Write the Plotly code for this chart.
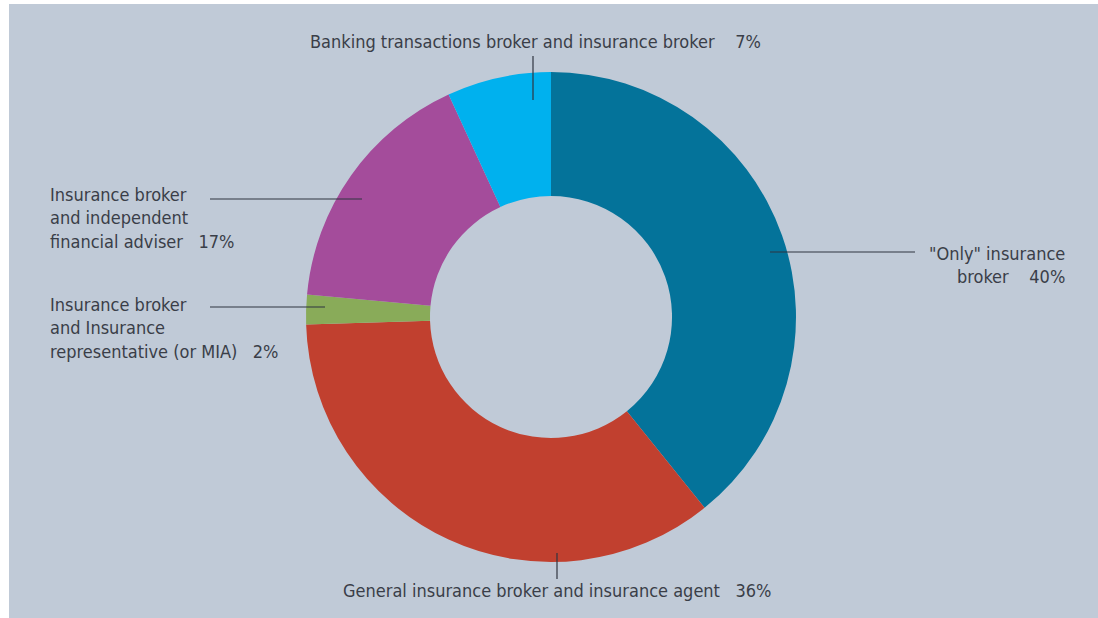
import plotly.graph_objects as go

W, H = 1098, 618

categories = [
    '"Only" insurance broker',
    "General insurance broker and insurance agent",
    "Insurance broker and Insurance representative (or MIA)",
    "Insurance broker and independent financial adviser",
    "Banking transactions broker and insurance broker",
]
values = [40, 36, 2, 17, 7]
colors = ["#04739a", "#c1402f", "#89ab59", "#a44c9b", "#00b1ee"]

label_texts = [
    '"Only" insurance<br>broker\u00a0\u00a0\u00a0\u00a040%',
    "General insurance broker and insurance agent\u00a0\u00a0\u00a036%",
    "Insurance broker<br>and Insurance<br>representative (or MIA)\u00a0\u00a0\u00a02%",
    "Insurance broker<br>and independent<br>financial adviser\u00a0\u00a0\u00a017%",
    "Banking transactions broker and insurance broker\u00a0\u00a0\u00a0\u00a07%",
]

BG = "#c0cad7"
TXT = "#3a3e48"
FONT = "Liberation Sans Narrow, DejaVu Sans Condensed, Arial Narrow, sans-serif"


def px(x):
    return x / W


def py(y):
    return 1 - y / H


cx, cy, r = 551, 317, 245

fig = go.Figure(
    go.Pie(
        labels=categories,
        values=values,
        marker=dict(colors=colors, line=dict(width=0)),
        hole=0.494,
        sort=False,
        direction="clockwise",
        rotation=0,
        textinfo="none",
        hoverinfo="label+percent",
        showlegend=False,
        domain=dict(x=[px(cx - r), px(cx + r)], y=[py(cy + r), py(cy - r)]),
    )
)

placements = [
    dict(x=1067, y=265, xanchor="right", align="right"),
    dict(x=557, y=590, xanchor="center", align="center"),
    dict(x=48, y=328, xanchor="left", align="left"),
    dict(x=48, y=218, xanchor="left", align="left"),
    dict(x=535, y=42, xanchor="center", align="center"),
]

annotations = []
for txt, p in zip(label_texts, placements):
    annotations.append(
        dict(
            text=txt,
            x=px(p["x"]),
            y=py(p["y"]),
            xref="paper",
            yref="paper",
            xanchor=p["xanchor"],
            yanchor="middle",
            align=p["align"],
            showarrow=False,
            font=dict(family=FONT, size=18, color=TXT),
        )
    )

leaders = [
    (770, 252, 915, 252),
    (557, 553, 557, 579),
    (210, 307, 325, 307),
    (210, 199, 362, 199),
    (533, 56, 533, 100),
]

shapes = [
    dict(type="rect", xref="paper", yref="paper", x0=0, x1=px(9), y0=0, y1=1,
         fillcolor="white", line=dict(width=0), layer="below"),
    dict(type="rect", xref="paper", yref="paper", x0=0, x1=1, y0=py(4), y1=1,
         fillcolor="white", line=dict(width=0), layer="below"),
]
for x0, y0, x1, y1 in leaders:
    shapes.append(
        dict(type="line", xref="paper", yref="paper",
             x0=px(x0), y0=py(y0), x1=px(x1), y1=py(y1),
             line=dict(color="#2f3440", width=1.2))
    )

fig.update_layout(
    width=W,
    height=H,
    margin=dict(l=0, r=0, t=0, b=0),
    paper_bgcolor=BG,
    plot_bgcolor=BG,
    annotations=annotations,
    shapes=shapes,
)

fig.write_html(
    "out.html",
    config={"displayModeBar": False},
    post_script="document.body.style.margin='0';document.body.style.overflow='hidden';",
)
